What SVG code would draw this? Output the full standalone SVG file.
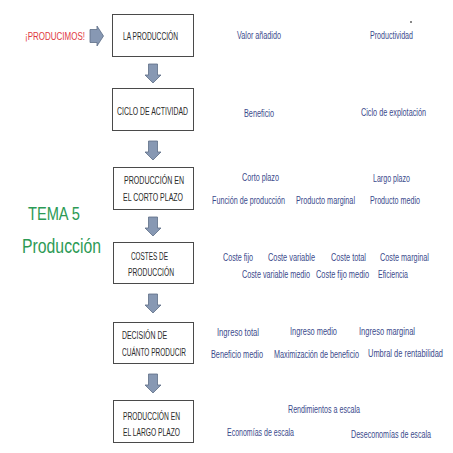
<svg xmlns="http://www.w3.org/2000/svg" width="453" height="453" viewBox="0 0 453 453">
<defs>
<style>
.box{fill:#fff;stroke:#4a4a4a;stroke-width:1}
.bt{font-family:"Liberation Sans",Arial,sans-serif;font-size:10px;fill:#2a2a2a}
.lb{font-family:"Liberation Sans",Arial,sans-serif;font-size:10.5px;fill:#3b4a8c}
.arr{fill:#8798b3;stroke:#5d6d86;stroke-width:0.8}
.title{font-family:"Liberation Sans",Arial,sans-serif;fill:#2c9a55}
</style>
<path id="down" d="M-4.5,0 H4.5 V11 H8 L0,19 L-8,11 H-4.5 Z"/>
</defs>
<rect width="453" height="453" fill="#fff"/>
<text x="25" y="40" font-family="Liberation Sans,Arial,sans-serif" font-size="11" fill="#e03840" textLength="60" lengthAdjust="spacingAndGlyphs">¡PRODUCIMOS!</text>
<g id="title">
<text class="title" x="28" y="220" font-size="18" textLength="52" lengthAdjust="spacingAndGlyphs">TEMA 5</text>
<text class="title" x="22" y="253" font-size="20" textLength="79" lengthAdjust="spacingAndGlyphs">Producción</text>
</g>
<g id="connectors">
<path class="arr" d="M90,29.5 H97 V26 L103.5,36 L97,46 V42.5 H90 Z"/>
<use href="#down" class="arr" x="153" y="64"/>
<use href="#down" class="arr" x="153" y="141"/>
<use href="#down" class="arr" x="153" y="217"/>
<use href="#down" class="arr" x="153" y="294"/>
<use href="#down" class="arr" x="153" y="374"/>
</g>
<g id="n1"><rect class="box" x="112.5" y="14.5" width="81" height="42"/>
<text class="bt" x="123" y="39.5" textLength="55" lengthAdjust="spacingAndGlyphs">LA PRODUCCIÓN</text></g>
<g id="n2"><rect class="box" x="112.5" y="88.5" width="81" height="42"/>
<text class="bt" x="117" y="114.5" textLength="71" lengthAdjust="spacingAndGlyphs">CICLO DE ACTIVIDAD</text></g>
<g id="n3"><rect class="box" x="113.5" y="167.5" width="80" height="42"/>
<text class="bt" x="124" y="183.5" textLength="60" lengthAdjust="spacingAndGlyphs">PRODUCCIÓN EN</text>
<text class="bt" x="123" y="200.5" textLength="60" lengthAdjust="spacingAndGlyphs">EL CORTO PLAZO</text></g>
<g id="n4"><rect class="box" x="113.5" y="242.5" width="80" height="41"/>
<text class="bt" x="131" y="259.5" textLength="37" lengthAdjust="spacingAndGlyphs">COSTES DE</text>
<text class="bt" x="128" y="275.5" textLength="46" lengthAdjust="spacingAndGlyphs">PRODUCCIÓN</text></g>
<g id="n5"><rect class="box" x="113.5" y="322.5" width="80" height="41"/>
<text class="bt" x="122" y="338.5" textLength="45" lengthAdjust="spacingAndGlyphs">DECISIÓN DE</text>
<text class="bt" x="122" y="355.5" textLength="64" lengthAdjust="spacingAndGlyphs">CUÁNTO PRODUCIR</text></g>
<g id="n6"><rect class="box" x="113.5" y="400.5" width="80" height="42"/>
<text class="bt" x="123" y="419.5" textLength="57" lengthAdjust="spacingAndGlyphs">PRODUCCIÓN EN</text>
<text class="bt" x="123" y="435.5" textLength="57" lengthAdjust="spacingAndGlyphs">EL LARGO PLAZO</text></g>
<g id="labels">
<text class="lb" x="237" y="38.5" textLength="44" lengthAdjust="spacingAndGlyphs">Valor añadido</text>
<text class="lb" x="370" y="38.5" textLength="43" lengthAdjust="spacingAndGlyphs">Productividad</text>
<rect x="410" y="21" width="2" height="2" fill="#888"/>
<text class="lb" x="244" y="116.5" textLength="30" lengthAdjust="spacingAndGlyphs">Beneficio</text>
<text class="lb" x="361" y="115.5" textLength="65" lengthAdjust="spacingAndGlyphs">Ciclo de explotación</text>
<text class="lb" x="242" y="180.5" textLength="37" lengthAdjust="spacingAndGlyphs">Corto plazo</text>
<text class="lb" x="373" y="181.5" textLength="37" lengthAdjust="spacingAndGlyphs">Largo plazo</text>
<text class="lb" x="212" y="203.5" textLength="73" lengthAdjust="spacingAndGlyphs">Función de producción</text>
<text class="lb" x="296" y="203.5" textLength="59" lengthAdjust="spacingAndGlyphs">Producto marginal</text>
<text class="lb" x="370" y="203.5" textLength="50" lengthAdjust="spacingAndGlyphs">Producto medio</text>
<text class="lb" x="223" y="260.5" textLength="30" lengthAdjust="spacingAndGlyphs">Coste fijo</text>
<text class="lb" x="268" y="260.5" textLength="47" lengthAdjust="spacingAndGlyphs">Coste variable</text>
<text class="lb" x="331" y="260.5" textLength="35" lengthAdjust="spacingAndGlyphs">Coste total</text>
<text class="lb" x="380" y="260.5" textLength="49" lengthAdjust="spacingAndGlyphs">Coste marginal</text>
<text class="lb" x="242" y="277.5" textLength="68" lengthAdjust="spacingAndGlyphs">Coste variable medio</text>
<text class="lb" x="316" y="277.5" textLength="53" lengthAdjust="spacingAndGlyphs">Coste fijo medio</text>
<text class="lb" x="378" y="277.5" textLength="30" lengthAdjust="spacingAndGlyphs">Eficiencia</text>
<text class="lb" x="217" y="335.5" textLength="42" lengthAdjust="spacingAndGlyphs">Ingreso total</text>
<text class="lb" x="290" y="334.5" textLength="47" lengthAdjust="spacingAndGlyphs">Ingreso medio</text>
<text class="lb" x="359" y="334.5" textLength="56" lengthAdjust="spacingAndGlyphs">Ingreso marginal</text>
<text class="lb" x="211" y="357.5" textLength="52" lengthAdjust="spacingAndGlyphs">Beneficio medio</text>
<text class="lb" x="274" y="357.5" textLength="85" lengthAdjust="spacingAndGlyphs">Maximización de beneficio</text>
<text class="lb" x="368" y="356.5" textLength="75" lengthAdjust="spacingAndGlyphs">Umbral de rentabilidad</text>
<text class="lb" x="288" y="412.5" textLength="72" lengthAdjust="spacingAndGlyphs">Rendimientos a escala</text>
<text class="lb" x="227" y="435.5" textLength="67" lengthAdjust="spacingAndGlyphs">Economías de escala</text>
<text class="lb" x="351" y="437.5" textLength="80" lengthAdjust="spacingAndGlyphs">Deseconomías de escala</text>
</g>
</svg>
